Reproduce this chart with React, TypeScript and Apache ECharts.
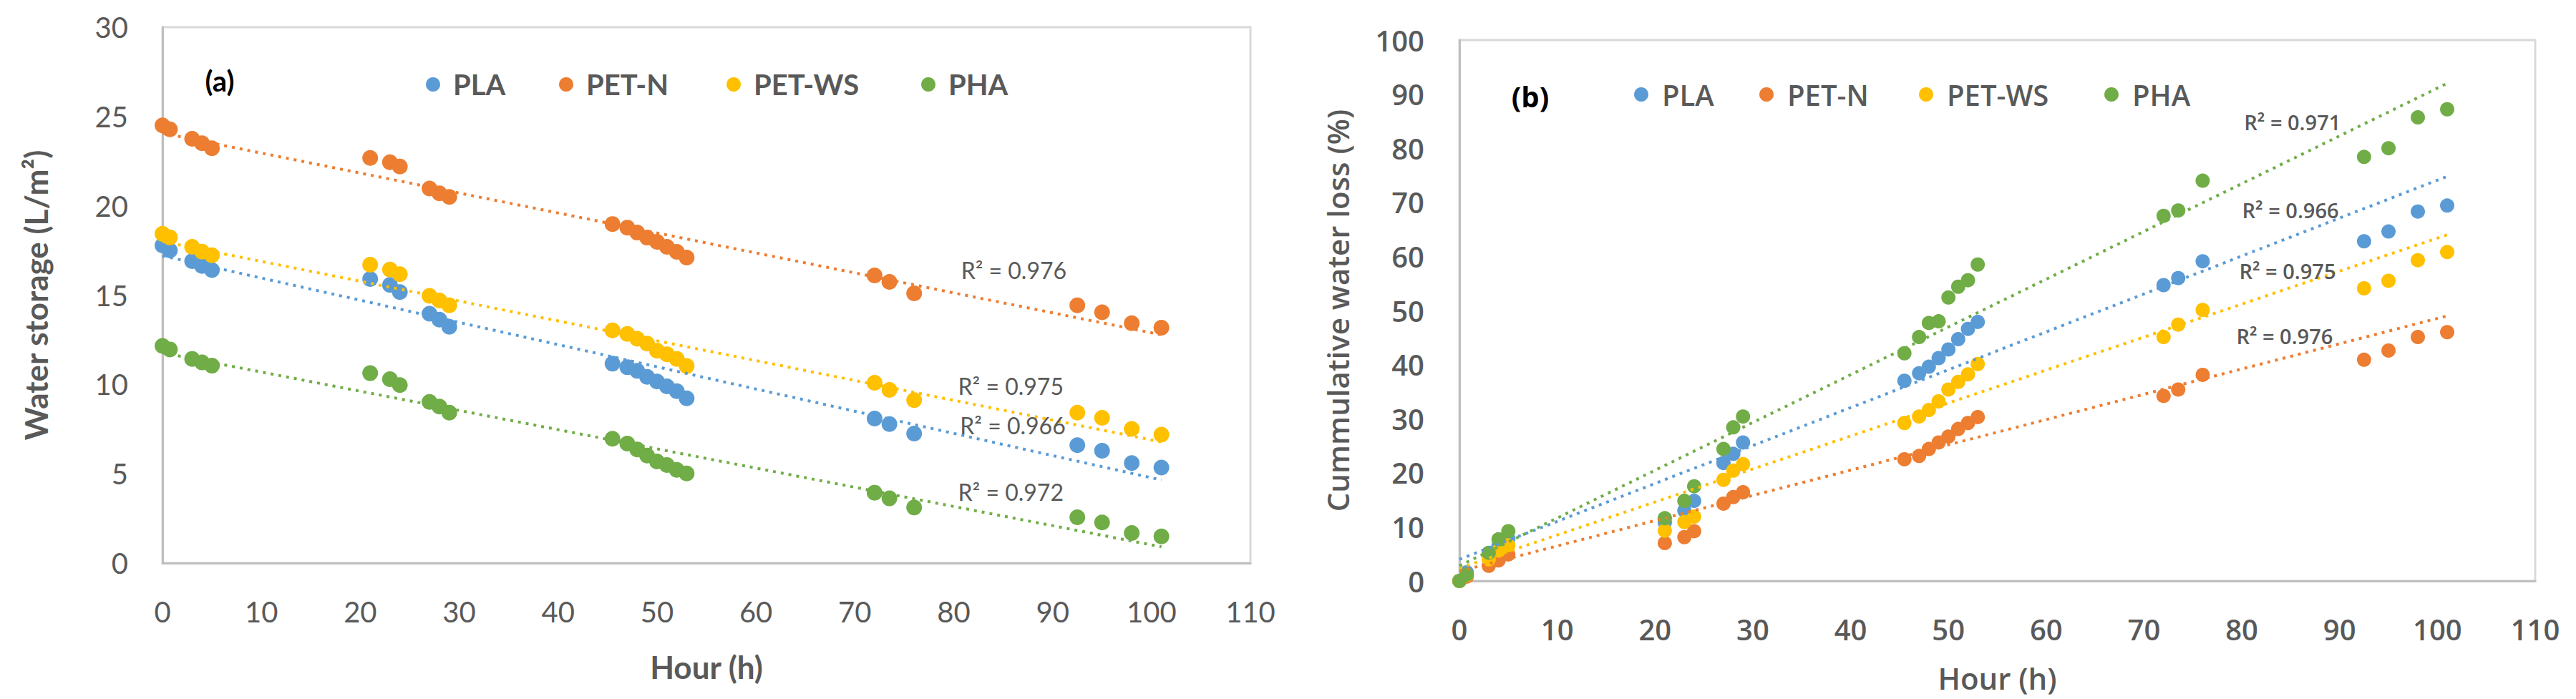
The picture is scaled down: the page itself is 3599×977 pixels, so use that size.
import { useEffect, useRef } from 'react';
import * as echarts from 'echarts';

// sampling times (h), shared by both panels
const hours = [0, 0.75, 3, 4, 5, 21, 23, 24, 27, 28, 29, 45.5, 47, 48, 49, 50, 51, 52, 53, 72, 73.5, 76, 92.5, 95, 98, 101];

const materials = ['PLA', 'PET-N', 'PET-WS', 'PHA'];

// (a) water storage, L/m2
const storagePLA = [17.78, 17.5, 16.9, 16.63, 16.4, 15.9, 15.57, 15.17, 13.96, 13.63, 13.23, 11.16, 10.96, 10.76, 10.42, 10.16, 9.89, 9.62, 9.22, 8.09, 7.78, 7.25, 6.6, 6.29, 5.6, 5.35];
const storagePETN = [24.5, 24.28, 23.75, 23.5, 23.22, 22.68, 22.44, 22.2, 20.97, 20.7, 20.5, 18.98, 18.78, 18.5, 18.22, 17.98, 17.7, 17.42, 17.1, 16.1, 15.74, 15.1, 14.43, 14.04, 13.43, 13.18];
const storagePETWS = [18.43, 18.23, 17.7, 17.43, 17.23, 16.7, 16.43, 16.17, 14.96, 14.7, 14.43, 13.03, 12.83, 12.56, 12.29, 11.89, 11.69, 11.43, 11.03, 10.09, 9.69, 9.12, 8.42, 8.13, 7.51, 7.19];
const storagePHA = [12.16, 11.96, 11.43, 11.23, 11.05, 10.63, 10.29, 9.96, 9.02, 8.76, 8.42, 6.96, 6.69, 6.36, 6.02, 5.69, 5.49, 5.22, 5.02, 3.94, 3.62, 3.11, 2.56, 2.27, 1.68, 1.49];

// (b) cumulative water loss, %
const lossPLA = [0, 1.6, 4.9, 6.5, 7.8, 10.8, 13.0, 14.8, 21.8, 23.5, 25.6, 37.0, 38.4, 39.6, 41.2, 42.8, 44.7, 46.6, 47.9, 54.7, 56.0, 59.1, 62.8, 64.6, 68.3, 69.4];
const lossPETN = [0, 0.8, 2.8, 3.8, 4.9, 7.0, 8.1, 9.2, 14.3, 15.5, 16.4, 22.5, 23.1, 24.4, 25.6, 26.7, 28.1, 29.2, 30.3, 34.2, 35.4, 38.1, 40.9, 42.6, 45.1, 46.0];
const lossPETWS = [0, 1.1, 4.0, 5.6, 6.6, 9.3, 10.9, 11.9, 18.7, 20.4, 21.6, 29.2, 30.4, 31.6, 33.2, 35.4, 36.8, 38.2, 40.1, 45.1, 47.4, 50.1, 54.1, 55.5, 59.3, 60.8];
const lossPHA = [0, 1.2, 5.2, 7.7, 9.2, 11.6, 14.8, 17.5, 24.4, 28.4, 30.4, 42.1, 45.1, 47.7, 48.0, 52.4, 54.4, 55.6, 58.5, 67.5, 68.5, 74.0, 78.4, 80.0, 85.7, 87.2];

// linear trendlines, value at first and last hour
const trendHours = [0, 101];
const storageTrend = [[17.2, 4.65], [24.07, 12.78], [18.0, 6.78], [11.77, 0.91]];
const lossTrend = [[4.0, 74.8], [1.8, 49.0], [2.4, 64.0], [2.8, 92.0]];

// R² of each fit, and where its label sits (hour, value)
const storageR2 = ['0.966', '0.976', '0.975', '0.972'];
const storageR2At = [[80.6, 7.73], [80.7, 16.4], [80.4, 9.93], [80.4, 4.0]];
const lossR2 = ['0.966', '0.976', '0.975', '0.971'];
const lossR2At = [[80.0, 68.6], [79.4, 45.3], [79.7, 57.3], [80.2, 84.9]];

const colors = ['#5B9BD5', '#ED7D31', '#FFC000', '#70AD47'];
const storage = [storagePLA, storagePETN, storagePETWS, storagePHA];
const loss = [lossPLA, lossPETN, lossPETWS, lossPHA];

const FONT_A = 'Lato, "Liberation Sans", sans-serif';
const FONT_B = '"Open Sans", "Noto Sans", sans-serif';
const GREY = '#595959';

const App = () => {
  const chartDom = useRef<HTMLDivElement | null>(null);

  useEffect(() => {
    document.body.style.margin = '0';
    if (!chartDom.current) return;
    const myChart = echarts.init(chartDom.current, undefined, { renderer: 'svg' });

    const series: any[] = [];
    // scatter points first
    materials.forEach((name, i) => {
      series.push({
        name,
        type: 'scatter',
        xAxisIndex: 0,
        yAxisIndex: 0,
        symbolSize: 22,
        itemStyle: { color: colors[i], opacity: 1 },
        data: hours.map((h, j) => [h, storage[i][j]]),
        z: 2,
      });
    });
    materials.forEach((name, i) => {
      series.push({
        name,
        type: 'scatter',
        xAxisIndex: 1,
        yAxisIndex: 1,
        symbolSize: 20,
        itemStyle: { color: colors[i], opacity: 1 },
        data: hours.map((h, j) => [h, loss[i][j]]),
        z: 2,
      });
    });
    // dotted trendlines on top, with their R² labels
    materials.forEach((name, i) => {
      series.push({
        name: name + ' trend (a)',
        type: 'line',
        xAxisIndex: 0,
        yAxisIndex: 0,
        symbol: 'none',
        data: trendHours.map((h, j) => [h, storageTrend[i][j]]),
        lineStyle: { color: colors[i], width: 4, type: [4, 7] },
        z: 3,
        markPoint: {
          symbol: 'circle',
          symbolSize: 1,
          itemStyle: { color: 'rgba(0,0,0,0)' },
          label: {
            show: true,
            position: 'right',
            distance: 0,
            color: GREY,
            fontFamily: FONT_A,
            fontSize: 32,
            formatter: 'R² = ' + storageR2[i],
          },
          data: [{ coord: storageR2At[i] }],
        },
      });
    });
    materials.forEach((name, i) => {
      series.push({
        name: name + ' trend (b)',
        type: 'line',
        xAxisIndex: 1,
        yAxisIndex: 1,
        symbol: 'none',
        data: trendHours.map((h, j) => [h, lossTrend[i][j]]),
        lineStyle: { color: colors[i], width: 4, type: [4, 7] },
        z: 3,
        markPoint: {
          symbol: 'circle',
          symbolSize: 1,
          itemStyle: { color: 'rgba(0,0,0,0)' },
          label: {
            show: true,
            position: 'right',
            distance: 0,
            color: GREY,
            fontFamily: FONT_B,
            fontWeight: 600,
            fontSize: 29,
            formatter: 'R² = ' + lossR2[i],
          },
          data: [{ coord: lossR2At[i] }],
        },
      });
    });

    const axisLine = { show: true, onZero: false, lineStyle: { color: '#bfbfbf', width: 3 } };

    const legendA = [590, 776, 1010, 1282];
    const legendB = [2278, 2453, 2676, 2935];
    const legends: any[] = [];
    materials.forEach((name, i) => {
      legends.push({
        data: [{ name, icon: 'circle' }],
        left: legendA[i],
        top: 93,
        itemWidth: 20,
        itemHeight: 20,
        selectedMode: false,
        textStyle: { color: GREY, fontFamily: FONT_A, fontWeight: 'bold', fontSize: 40, padding: [0, 0, 0, 13] },
      });
      legends.push({
        data: [{ name, icon: 'circle' }],
        left: legendB[i],
        top: 107,
        itemWidth: 20,
        itemHeight: 20,
        selectedMode: false,
        textStyle: { color: GREY, fontFamily: FONT_B, fontWeight: 600, fontSize: 40, padding: [0, 0, 0, 14] },
      });
    });

    const option = {
      animation: false,
      backgroundColor: '#ffffff',
      grid: [
        { left: 227, top: 38, right: 1852, bottom: 190, show: true, borderColor: '#d9d9d9', borderWidth: 3 },
        { left: 2039, top: 56, right: 57, bottom: 165, show: true, borderColor: '#d9d9d9', borderWidth: 3 },
      ],
      legend: legends,
      xAxis: [
        {
          gridIndex: 0,
          type: 'value',
          min: 0,
          max: 110,
          interval: 10,
          axisLine,
          axisTick: { show: false },
          splitLine: { show: false },
          axisLabel: { color: GREY, fontFamily: FONT_A, fontSize: 40, margin: 48 },
          name: 'Hour (h)',
          nameLocation: 'middle',
          nameGap: 123,
          nameTextStyle: { color: GREY, fontFamily: FONT_A, fontWeight: 'bold', fontSize: 44 },
        },
        {
          gridIndex: 1,
          type: 'value',
          min: 0,
          max: 110,
          interval: 10,
          axisLine,
          axisTick: { show: false },
          splitLine: { show: false },
          axisLabel: { color: GREY, fontFamily: FONT_B, fontWeight: 600, fontSize: 40, margin: 47 },
          name: 'Hour (h)',
          nameLocation: 'middle',
          nameGap: 114,
          nameTextStyle: { color: GREY, fontFamily: FONT_B, fontWeight: 600, fontSize: 42 },
        },
      ],
      yAxis: [
        {
          gridIndex: 0,
          type: 'value',
          min: 0,
          max: 30,
          interval: 5,
          axisLine,
          axisTick: { show: false },
          splitLine: { show: false },
          axisLabel: { color: GREY, fontFamily: FONT_A, fontSize: 40, margin: 48 },
          name: 'Water storage (L/m²)',
          nameLocation: 'middle',
          nameGap: 155,
          nameTextStyle: { color: GREY, fontFamily: FONT_A, fontWeight: 'bold', fontSize: 44 },
        },
        {
          gridIndex: 1,
          type: 'value',
          min: 0,
          max: 100,
          interval: 10,
          axisLine,
          axisTick: { show: false },
          splitLine: { show: false },
          axisLabel: { color: GREY, fontFamily: FONT_B, fontWeight: 600, fontSize: 40, margin: 49 },
          name: 'Cummulative water loss (%)',
          nameLocation: 'middle',
          nameGap: 150,
          nameTextStyle: { color: GREY, fontFamily: FONT_B, fontWeight: 600, fontSize: 42 },
        },
      ],
      graphic: [
        {
          type: 'text',
          x: 307,
          y: 113,
          style: { text: '(a)', fill: '#000', fontFamily: FONT_A, fontWeight: 'bold', fontSize: 40, align: 'center', verticalAlign: 'middle' },
        },
        {
          type: 'text',
          x: 2138,
          y: 134,
          style: { text: '(b)', fill: '#000', fontFamily: FONT_B, fontWeight: 'bold', fontSize: 40, align: 'center', verticalAlign: 'middle' },
        },
      ],
      series,
    };

    myChart.setOption(option);

    return () => {
      myChart.dispose();
    };
  }, []);

  return (
    <div style={{ width: 3599, height: 977, background: '#fff' }}>
      <div ref={chartDom} style={{ width: '100%', height: '100%' }} />
    </div>
  );
};

export default App;
